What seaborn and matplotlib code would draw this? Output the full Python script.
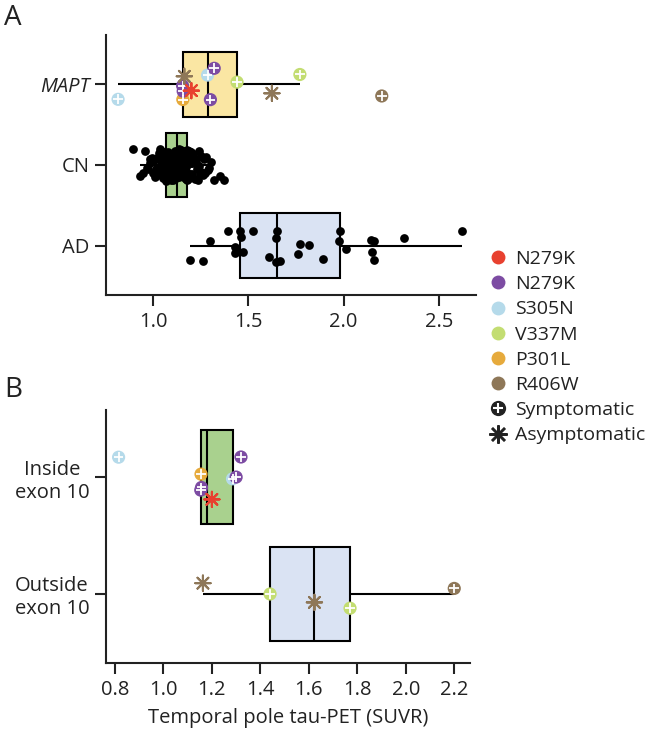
import numpy as np
import pandas as pd
import matplotlib
matplotlib.use("Agg")
import matplotlib.pyplot as plt
from matplotlib.lines import Line2D
import seaborn as sns


# 1. Data

# MAPT mutation carriers (one entry per person)
carrier_mutation = ["S305N", "N279K_b", "P301L", "N279K_b", "N279K_a", "S305N",
                    "N279K_b", "N279K_b", "R406W", "V337M", "R406W", "V337M",
                    "R406W"]
carrier_status = ["Symptomatic", "Symptomatic", "Symptomatic", "Symptomatic",
                  "Asymptomatic", "Symptomatic", "Symptomatic", "Symptomatic",
                  "Asymptomatic", "Symptomatic", "Asymptomatic", "Symptomatic",
                  "Symptomatic"]
carrier_exon = ["Inside\nexon 10"] * 8 + ["Outside\nexon 10"] * 5
carrier_suvr = [0.815, 1.154, 1.155, 1.157, 1.20, 1.285, 1.30, 1.32,
                1.163, 1.44, 1.623, 1.77, 2.20]

# cognitively normal controls
cn_suvr = [
    1.105, 0.895, 1.152, 1.069, 1.226, 1.041, 1.137, 1.092, 1.183, 0.93,
    1.12, 1.062, 1.165, 1.009, 1.21, 1.084, 1.145, 1.03, 1.176, 1.099,
    0.947, 1.259, 1.057, 1.129, 1.075, 1.196, 1.018, 1.16, 1.112, 1.049,
    1.303, 1.087, 1.139, 0.966, 1.172, 1.102, 1.066, 1.216, 1.125, 1.038,
    1.155, 1.079, 1.187, 0.985, 1.134, 1.094, 1.243, 1.053, 1.167, 1.115,
    1.012, 1.149, 1.072, 1.201, 1.124, 0.958, 1.178, 1.089, 1.132, 1.046,
    1.271, 1.107, 1.06, 1.162, 1.08, 1.191, 1.024, 1.142, 1.117, 1.37,
    1.003, 1.17, 1.095, 1.213, 1.055, 1.127, 1.082, 1.238, 1.036, 1.157,
    1.11, 0.972, 1.179, 1.074, 1.147, 1.063, 1.204, 1.122, 0.998, 1.135,
    1.286, 1.09, 1.174, 1.044, 1.119, 1.185, 1.029, 1.159, 1.097, 1.065,
    1.222, 1.13, 1.07, 1.177, 0.981, 1.114, 1.193, 1.051, 1.14, 1.085,
    1.317, 1.164, 1.021, 1.104, 1.23, 1.067, 1.154, 1.077, 1.181, 0.992,
    1.169, 1.1, 1.248, 1.059, 1.144, 1.109, 1.198, 1.031, 1.175, 1.087,
    1.35, 1.15, 1.062, 1.207, 1.12, 1.265, 1.171, 1.278, 1.189, 1.234,
    1.294, 1.219, 1.24, 1.253, 1.034, 1.16, 1.065, 1.132, 1.089, 1.176,
]

# Alzheimer's disease patients
ad_suvr = [1.195, 1.26, 1.30, 1.39, 1.43, 1.43, 1.44, 1.455, 1.46, 1.47,
           1.525, 1.607, 1.642, 1.642, 1.651, 1.665, 1.76, 1.768, 1.817, 1.89,
           1.975, 1.98, 2.01, 2.146, 2.147, 2.16, 2.16, 2.317, 2.62]

groups_a = ["MAPT", "CN", "AD"]
groups_b = ["Inside\nexon 10", "Outside\nexon 10"]

mutation_keys = ["N279K_a", "N279K_b", "S305N", "V337M", "P301L", "R406W"]
mutation_labels = ["N279K", "N279K", "S305N", "V337M", "P301L", "R406W"]
mutation_colors = ["#E8412F", "#7D4CA3", "#B5DAEA", "#C3DD72", "#E6AA3C", "#8E7758"]

box_colors_a = {"MAPT": "#FAE6A3", "CN": "#A9D18E", "AD": "#DAE3F3"}
box_colors_b = {"Inside\nexon 10": "#A9D18E", "Outside\nexon 10": "#DAE3F3"}


# 2. Build tables

carriers = pd.DataFrame({
    "mutation": carrier_mutation,
    "status": carrier_status,
    "exon": carrier_exon,
    "suvr": carrier_suvr,
})
carriers["group"] = "MAPT"
carriers["key"] = carriers["mutation"] + "|" + carriers["status"]

controls = pd.concat([
    pd.DataFrame({"group": "CN", "suvr": cn_suvr}),
    pd.DataFrame({"group": "AD", "suvr": ad_suvr}),
], ignore_index=True)

panel_a = pd.concat([carriers[["group", "suvr"]], controls], ignore_index=True)

color_of = dict(zip(mutation_keys, mutation_colors))
keys = sorted(carriers["key"].unique())
clear = (0, 0, 0, 0)


# 3. Plotting helpers

def draw_boxes(ax, df, y, order, palette):
    sns.boxplot(
        data=df, x="suvr", y=y, order=order, hue=y, hue_order=order,
        palette=palette, legend=False, saturation=1, width=0.8,
        showfliers=False, showcaps=False, whis=1.5,
        linecolor="black", linewidth=1.5, ax=ax,
    )


def draw_carriers(ax, y, order, seed):
    """Symptomatic = filled circle with white cross, asymptomatic = asterisk."""
    disc = {k: color_of[k.split("|")[0]] if k.endswith("|Symptomatic") else clear
            for k in keys}
    cross = {k: "white" if k.endswith("|Symptomatic") else clear for k in keys}
    star = {k: color_of[k.split("|")[0]] if k.endswith("|Asymptomatic") else clear
            for k in keys}

    layers = [
        (disc, "o", 9.5, 0),
        (cross, "+", 7, 1.3),
        (star, (8, 2, 0), 11, 1.5),
    ]
    for pal, marker, size, lw in layers:
        np.random.seed(seed)
        sns.stripplot(
            data=carriers, x="suvr", y=y, order=order, hue="key",
            hue_order=keys, palette=pal, legend=False, dodge=False,
            jitter=0.2, marker=marker, size=size, linewidth=lw,
            zorder=4, ax=ax,
        )


def style_axis(ax):
    sns.despine(ax=ax)
    ax.set_xlabel("")
    ax.set_ylabel("")
    ax.tick_params(axis="both", length=8, width=1.5, pad=4, labelsize=14.5,
                   color="#222222", labelcolor="#222222")
    for side in ("left", "bottom"):
        ax.spines[side].set_linewidth(1.5)
        ax.spines[side].set_color("#222222")


# 4. Figure

sns.set_style("ticks")
plt.rcParams["font.family"] = ["Open Sans", "DejaVu Sans"]

fig = plt.figure(figsize=(6.48, 7.36), dpi=100)
ax_a = fig.add_axes([106 / 648, 1 - 295 / 736, 370 / 648, 260 / 736])
ax_b = fig.add_axes([106 / 648, 1 - 663 / 736, 364 / 648, 253 / 736])

# panel A
draw_boxes(ax_a, panel_a, "group", groups_a, box_colors_a)
np.random.seed(11)
sns.stripplot(data=controls, x="suvr", y="group", order=groups_a,
              color="black", size=6.3, jitter=0.2, linewidth=0,
              zorder=3, ax=ax_a)
draw_carriers(ax_a, "group", groups_a, seed=4)
style_axis(ax_a)
ax_a.set_xlim(0.7516, 2.695)
ax_a.set_ylim(2.61, -0.61)
ax_a.set_xticks([1.0, 1.5, 2.0, 2.5])
ax_a.set_xticklabels(["1.0", "1.5", "2.0", "2.5"])
ax_a.get_yticklabels()[0].set_fontstyle("italic")

# panel B
draw_boxes(ax_b, carriers, "exon", groups_b, box_colors_b)
draw_carriers(ax_b, "exon", groups_b, seed=7)
style_axis(ax_b)
ax_b.set_xlim(0.763, 2.265)
ax_b.set_ylim(1.59, -0.573)
ax_b.set_xticks([0.8, 1.0, 1.2, 1.4, 1.6, 1.8, 2.0, 2.2])
ax_b.set_xticklabels(["0.8", "1.0", "1.2", "1.4", "1.6", "1.8", "2.0", "2.2"])
for lab in ax_b.get_yticklabels():
    lab.set_multialignment("center")
ax_b.set_xlabel("Temporal pole tau-PET (SUVR)", fontsize=14.5,
                color="#222222", labelpad=6)

fig.text(4 / 648, 1 - 4 / 736, "A", fontsize=20, va="top", ha="left",
         color="#222222")
fig.text(4 / 648, 1 - 376 / 736, "B", fontsize=20, va="top", ha="left",
         color="#222222")

# legend
handles = [Line2D([], [], ls="", marker="o", ms=10, mec="none", mfc=c)
           for c in mutation_colors]
handles.append((
    Line2D([], [], ls="", marker="o", ms=11, mec="none", mfc="#222222"),
    Line2D([], [], ls="", marker="+", ms=7.5, mew=1.5, color="white"),
))
handles.append(Line2D([], [], ls="", marker=(8, 2, 0), ms=13, mew=1.8,
                      color="#222222"))
labels = mutation_labels + ["Symptomatic", "Asymptomatic"]
fig.legend(handles, labels, loc="upper left",
           bbox_to_anchor=(488 / 648, 1 - 250 / 736), frameon=False,
           fontsize=14, handlelength=1.0, handletextpad=0.4,
           labelspacing=0.37, borderaxespad=0, borderpad=0,
           labelcolor="#222222")

fig.savefig("out.png", dpi=100)
